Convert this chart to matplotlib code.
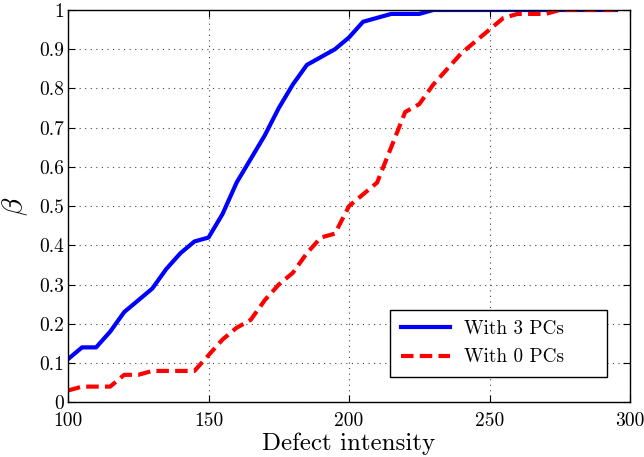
import matplotlib
matplotlib.use("Agg")
import matplotlib.pyplot as plt

x_vals = list(range(100, 300, 5))
beta_3pcs = [0.11, 0.14, 0.14, 0.18, 0.23, 0.26, 0.29, 0.34, 0.38, 0.41,
             0.42, 0.48, 0.56, 0.62, 0.68, 0.75, 0.81, 0.86, 0.88, 0.90,
             0.93, 0.97, 0.98, 0.99, 0.99, 0.99, 1.0, 1.0, 1.0, 1.0,
             1.0, 1.0, 1.0, 1.0, 1.0, 1.0, 1.0, 1.0, 1.0, 1.0]
beta_0pcs = [0.03, 0.04, 0.04, 0.04, 0.07, 0.07, 0.08, 0.08, 0.08, 0.08,
             0.12, 0.16, 0.19, 0.21, 0.26, 0.30, 0.33, 0.38, 0.42, 0.43,
             0.50, 0.53, 0.56, 0.65, 0.74, 0.76, 0.81, 0.85, 0.89, 0.92,
             0.95, 0.98, 0.99, 0.99, 0.99, 1.0, 1.0, 1.0, 1.0, 1.0]
labels = ["With 3 PCs", "With 0 PCs"]
xticks = [100, 150, 200, 250, 300]
yticks = [0, 0.1, 0.2, 0.3, 0.4, 0.5, 0.6, 0.7, 0.8, 0.9, 1]
ytick_labels = ["0", "0.1", "0.2", "0.3", "0.4", "0.5", "0.6", "0.7", "0.8", "0.9", "1"]

plt.rcParams['font.family'] = ['cmr10', 'DejaVu Serif']
plt.rcParams['mathtext.fontset'] = 'cm'
plt.rcParams['axes.formatter.use_mathtext'] = True

fig = plt.figure(figsize=(6.44, 4.57), dpi=100)
ax = fig.add_axes([68/644, (457-402.3)/457, 562/644, 392.3/457])

ax.plot(x_vals, beta_3pcs, color='#0000ff', lw=3, label=labels[0])
ax.plot(x_vals, beta_0pcs, color='#ff0000', lw=3, ls=(0, (3.0, 1.5)), label=labels[1])

ax.set_xlim(100, 300)
ax.set_ylim(0, 1)
ax.set_xticks(xticks)
ax.set_xticklabels([str(v) for v in xticks])
ax.set_yticks(yticks)
ax.set_yticklabels(ytick_labels)
ax.tick_params(direction='in', top=True, right=True, labelsize=14, length=5, width=0.8)
ax.tick_params(axis='x', pad=7)
ax.tick_params(axis='y', pad=3)
ax.grid(True, ls=(0, (1, 4)), color='#444444', lw=0.8)
for s in ax.spines.values():
    s.set_linewidth(1.0)

ax.set_xlabel("Defect intensity", fontsize=18, labelpad=2)
ax.set_ylabel(r"$\beta$", fontsize=21, labelpad=6)

leg = ax.legend(loc='lower left', bbox_to_anchor=(0.573, 0.0645, 0.386, 0.168),
                mode='expand', fontsize=13.8,
                fancybox=False, framealpha=1, edgecolor='black', handlelength=2.6,
                borderpad=0.55, labelspacing=0.55, handletextpad=0.7, borderaxespad=0)
leg.get_frame().set_linewidth(1.0)

fig.savefig("out.png", dpi=100)
